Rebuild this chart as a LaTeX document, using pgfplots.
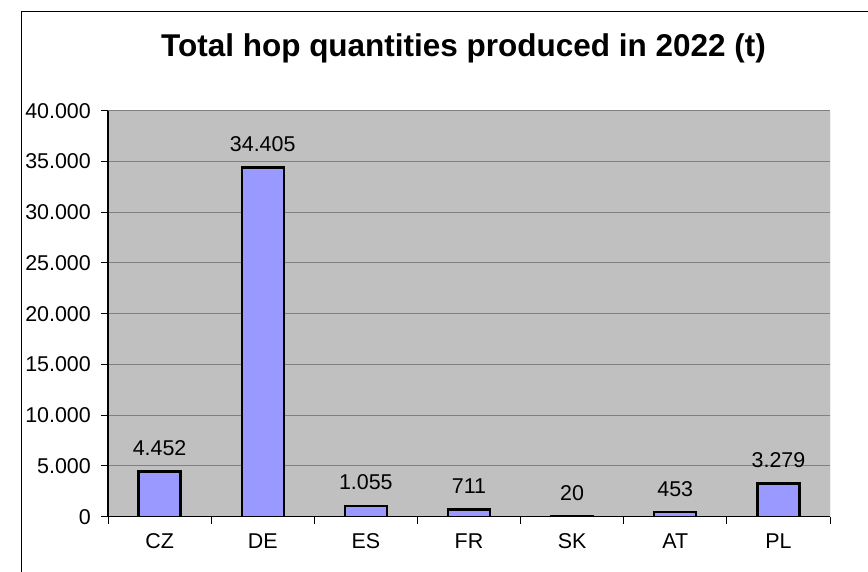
\documentclass[border=0pt]{standalone}
\usepackage{pgfplots}
\pgfplotsset{compat=1.18}
\usepackage{fontspec}
\setmainfont{Liberation Sans}

\definecolor{plotbg}{HTML}{C0C0C0}
\definecolor{barfill}{HTML}{9999FF}
\definecolor{gridgray}{HTML}{808080}

\begin{document}
\begin{tikzpicture}[x=1bp,y=1bp]
% chart frame (cut off at right and bottom like the original)
\draw[black, line width=0.9bp] (21.5,-20) -- (21.5,561) -- (900,561);
\node[anchor=base, font=\fontsize{31.6}{36}\selectfont\bfseries] at (463.5,515.3)
  {Total hop quantities produced in 2022 (t)};

\begin{axis}[
    at={(108bp,55.3bp)}, anchor=south west,
    scale only axis,
    width=722bp, height=406bp,
    xmin=-0.5, xmax=6.5,
    ymin=0, ymax=40000,
    ytick={0,5000,...,40000},
    scaled y ticks=false,
    /pgf/number format/.cd, 1000 sep={.}, assume math mode=true,
    /pgfplots/.cd,
    axis lines=left,
    axis line style={-, black, line width=1.2bp},
    axis background/.style={fill=plotbg},
    ymajorgrids,
    major grid style={gridgray, line width=0.9bp},
    tick align=outside,
    major tick length=7bp,
    tick style={black, line width=0.9bp},
    ticklabel style={font=\fontsize{21.5}{25}\selectfont},
    yticklabel style={anchor=east, inner sep=0pt, xshift=-10bp},
    xtick={-0.5,0.5,...,6.5},
    xticklabels={},
    extra x ticks={0,1,2,3,4,5,6},
    extra x tick labels={CZ,DE,ES,FR,SK,AT,PL},
    extra x tick style={major tick length=0pt,
        xticklabel style={anchor=north, inner sep=0pt, yshift=-17bp}},
    ybar,
    bar width=42bp,
    nodes near coords,
    nodes near coords style={font=\fontsize{21.5}{25}\selectfont, anchor=base,
        inner sep=0pt, yshift=16bp, black},
]
\addplot[fill=barfill, draw=black, line width=2.2bp] coordinates {
    (0,4452) (1,34405) (2,1055) (3,711) (4,20) (5,453) (6,3279)
};
\draw[gridgray, line width=0.9bp] (rel axis cs:1,0) -- (rel axis cs:1,1);
\end{axis}
\pgfresetboundingbox
\path[use as bounding box] (0,0) rectangle (868,572);
\end{tikzpicture}
\end{document}
